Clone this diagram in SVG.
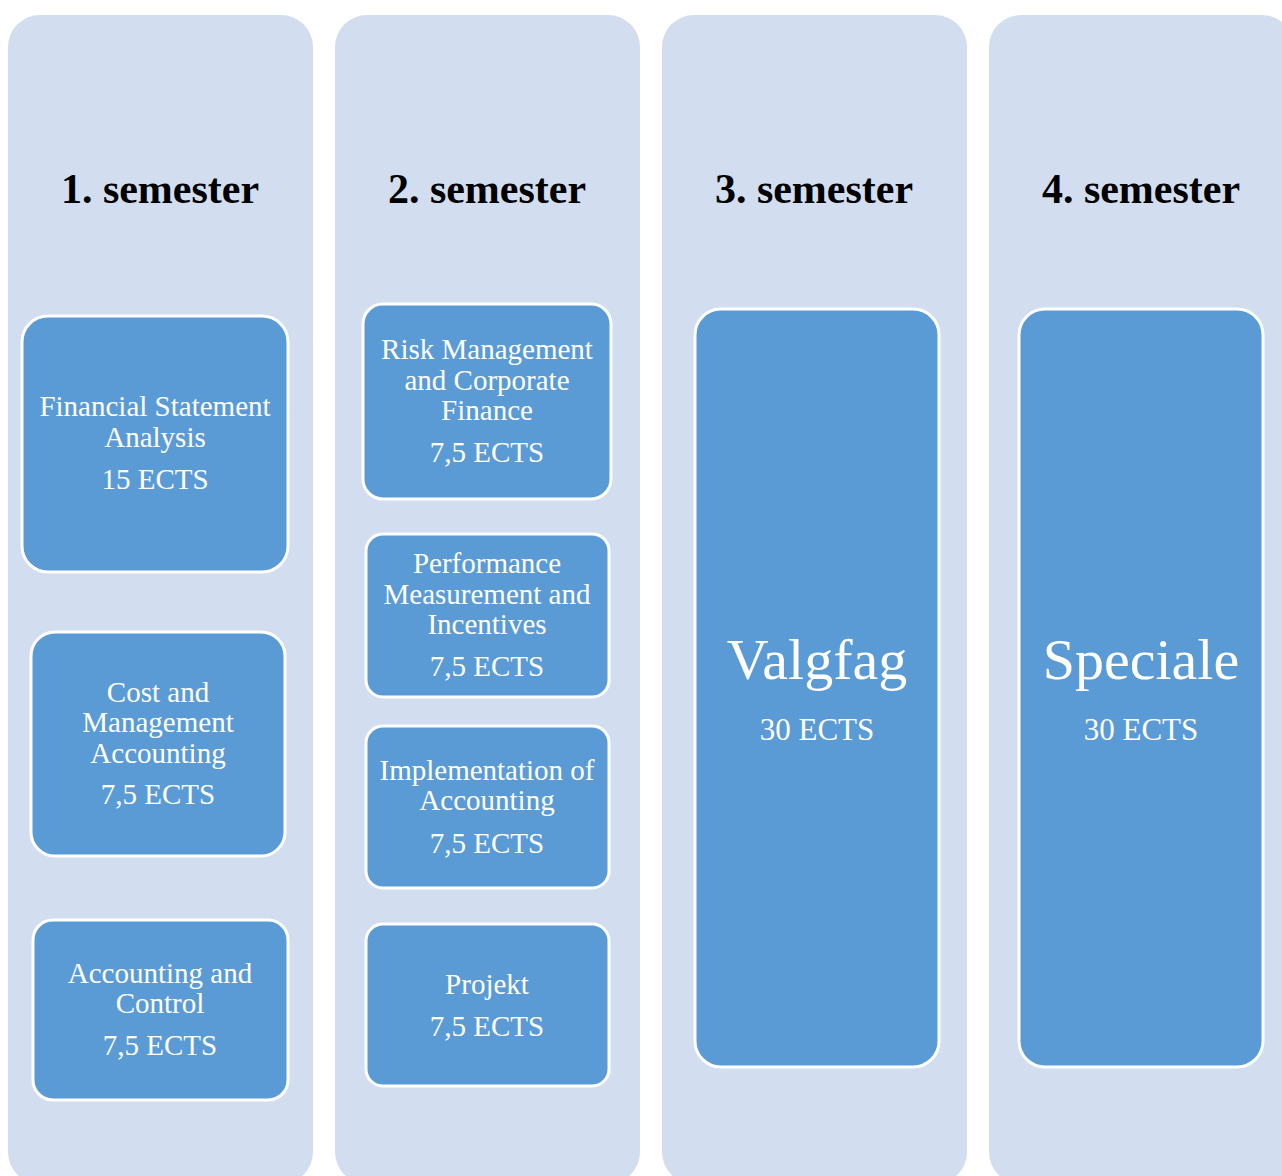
<svg xmlns="http://www.w3.org/2000/svg" width="1282" height="1176" viewBox="0 0 1282 1176">
<style>
.col{fill:#D2DEEF;}
.box{fill:#5B9BD5;stroke:#FFFFFF;stroke-width:3;}
.hd{font-family:"Liberation Serif","Times New Roman",serif;font-weight:bold;font-size:42px;fill:#000;text-anchor:middle;}
.t{font-family:"Liberation Serif","Times New Roman",serif;font-size:29px;fill:#FFFFFF;text-anchor:middle;}
.big{font-family:"Liberation Serif","Times New Roman",serif;font-size:58px;fill:#FFFFFF;text-anchor:middle;}
.mid{font-family:"Liberation Serif","Times New Roman",serif;font-size:31px;fill:#FFFFFF;text-anchor:middle;}
</style>
<rect width="1282" height="1176" fill="#FFFFFF"/>
<g id="col1"><rect class="col" x="8" y="15" width="305" height="1169" rx="32"/><text class="hd" x="160" y="203">1. semester</text></g>
<g id="col2"><rect class="col" x="335" y="15" width="305" height="1169" rx="32"/><text class="hd" x="487" y="203">2. semester</text></g>
<g id="col3"><rect class="col" x="662" y="15" width="305" height="1169" rx="32"/><text class="hd" x="814" y="203">3. semester</text></g>
<g id="col4"><rect class="col" x="989" y="15" width="305" height="1169" rx="32"/><text class="hd" x="1141" y="203">4. semester</text></g>

<g id="fsa"><rect class="box" x="22" y="316" width="266" height="256" rx="26"/>
<text class="t" x="155" y="416">Financial Statement</text><text class="t" x="155" y="447">Analysis</text><text class="t" x="155" y="489">15 ECTS</text></g>
<g id="cma"><rect class="box" x="31" y="632" width="254" height="224" rx="24"/>
<text class="t" x="158" y="702">Cost and</text><text class="t" x="158" y="732">Management</text><text class="t" x="158" y="763">Accounting</text><text class="t" x="158" y="804">7,5 ECTS</text></g>
<g id="ac"><rect class="box" x="33" y="920" width="255" height="180" rx="20"/>
<text class="t" x="160" y="983">Accounting and</text><text class="t" x="160" y="1013">Control</text><text class="t" x="160" y="1055">7,5 ECTS</text></g>

<g id="risk"><rect class="box" x="363" y="304" width="248" height="195" rx="20"/>
<text class="t" x="487" y="359">Risk Management</text><text class="t" x="487" y="390">and Corporate</text><text class="t" x="487" y="420">Finance</text><text class="t" x="487" y="462">7,5 ECTS</text></g>
<g id="perf"><rect class="box" x="366" y="534" width="243" height="163" rx="17"/>
<text class="t" x="487" y="573">Performance</text><text class="t" x="487" y="604">Measurement and</text><text class="t" x="487" y="634">Incentives</text><text class="t" x="487" y="676">7,5 ECTS</text></g>
<g id="impl"><rect class="box" x="366" y="726" width="243" height="162" rx="17"/>
<text class="t" x="487" y="780">Implementation of</text><text class="t" x="487" y="810">Accounting</text><text class="t" x="487" y="853">7,5 ECTS</text></g>
<g id="proj"><rect class="box" x="366" y="924" width="243" height="162" rx="17"/>
<text class="t" x="487" y="994">Projekt</text><text class="t" x="487" y="1036">7,5 ECTS</text></g>

<g id="valg"><rect class="box" x="695" y="309" width="244" height="758" rx="26"/>
<text class="big" x="817" y="679">Valgfag</text><text class="mid" x="817" y="740">30 ECTS</text></g>
<g id="spec"><rect class="box" x="1019" y="309" width="244" height="758" rx="26"/>
<text class="big" x="1141" y="679">Speciale</text><text class="mid" x="1141" y="740">30 ECTS</text></g>
<g id="connectors"></g>
</svg>
